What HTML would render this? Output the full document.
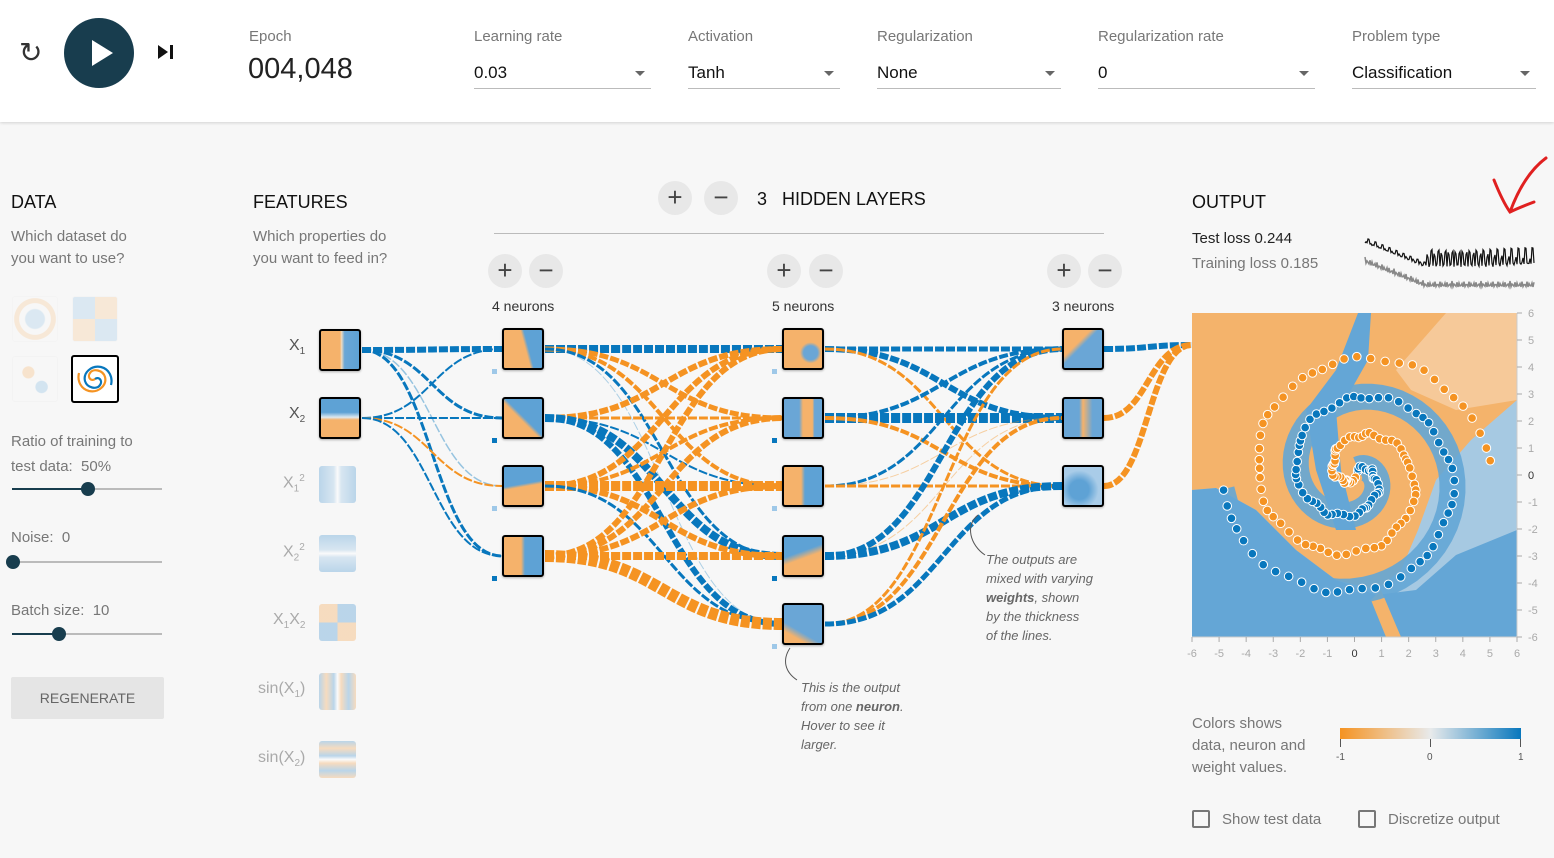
<!DOCTYPE html>
<html><head><meta charset="utf-8">
<style>
*{box-sizing:border-box;margin:0;padding:0}
body{width:1554px;height:858px;background:#f7f7f7;font-family:"Liberation Sans",sans-serif;position:relative;overflow:hidden;color:#222}
.a{position:absolute;white-space:nowrap}
#top{position:absolute;left:0;top:0;width:1554px;height:122px;background:#fff;box-shadow:0 1px 3px rgba(0,0,0,.15)}
.lbl{font-size:15px;color:#777}
.sel{font-size:17px;color:#111;border-bottom:1px solid #bbb;height:26px}
.sel:after{content:"";position:absolute;right:6px;top:8px;border:5px solid transparent;border-top:5px solid #666}
.h{font-size:18px;color:#111}
.g{font-size:15px;color:#777;line-height:22px}
.pm{position:absolute;width:34px;height:34px;border-radius:50%;background:#e8e8e8;color:#444;font-size:26px;text-align:center;line-height:32px}
.node{position:absolute;width:42px;height:42px;border:2px solid #000;border-radius:3px;overflow:hidden;box-shadow:0 1px 2px rgba(0,0,0,.3)}
.f{position:absolute;width:37px;height:37px;border-radius:3px;opacity:.4}
.fl{font-size:16px;color:#aaa}
.sl{position:absolute;height:2px;background:#bbb;width:150px}
.kn{position:absolute;width:14px;height:14px;border-radius:50%;background:#183D4E}
.it{font-size:13px;color:#666;font-style:italic;line-height:19px}
</style></head><body>
<div id="top"></div>
<div class="a" style="left:19px;top:36px;font-size:28px;color:#333">&#8635;</div>
<div class="a" style="left:64px;top:18px;width:70px;height:70px;border-radius:50%;background:#183D4E"></div>
<div class="a" style="left:92px;top:40px;width:0;height:0;border-left:21px solid #fff;border-top:13px solid transparent;border-bottom:13px solid transparent"></div>
<div class="a" style="left:158px;top:45px;border-left:10px solid #111;border-top:7px solid transparent;border-bottom:7px solid transparent"></div>
<div class="a" style="left:170px;top:45px;width:3px;height:14px;background:#111"></div>
<div class="a lbl" style="left:249px;top:28px">Epoch</div>
<div class="a" style="left:248px;top:53px;font-size:29px;color:#222">004,048</div>
<div class="a lbl" style="left:474px;top:28px">Learning rate</div>
<div class="a sel" style="left:474px;top:63px;width:177px">0.03</div>
<div class="a lbl" style="left:688px;top:28px">Activation</div>
<div class="a sel" style="left:688px;top:63px;width:152px">Tanh</div>
<div class="a lbl" style="left:877px;top:28px">Regularization</div>
<div class="a sel" style="left:877px;top:63px;width:184px">None</div>
<div class="a lbl" style="left:1098px;top:28px">Regularization rate</div>
<div class="a sel" style="left:1098px;top:63px;width:217px">0</div>
<div class="a lbl" style="left:1352px;top:28px">Problem type</div>
<div class="a sel" style="left:1352px;top:63px;width:184px">Classification</div>

<div class="a h" style="left:11px;top:192px">DATA</div>
<div class="a g" style="left:11px;top:226px">Which dataset do<br>you want to use?</div>
<div class="a" style="left:12px;top:296px;width:46px;height:46px;border:1px solid #eee;border-radius:3px;opacity:.3;background:radial-gradient(circle,#9ec8e8 0 30%,transparent 34%,transparent 50%,#f8c690 52% 66%,transparent 68%)"></div>
<div class="a" style="left:72px;top:296px;width:46px;height:46px;border:1px solid #eee;border-radius:3px;opacity:.3;background:conic-gradient(#f8c690 0 25%,#9ec8e8 25% 50%,#f8c690 50% 75%,#9ec8e8 75%)"></div>
<div class="a" style="left:12px;top:356px;width:46px;height:46px;border:1px solid #eee;border-radius:3px;opacity:.4;background:radial-gradient(circle at 35% 35%,#f8c690 0 14%,transparent 16%),radial-gradient(circle at 65% 68%,#9ec8e8 0 14%,transparent 16%)"></div>
<div class="a" style="left:71px;top:355px;width:48px;height:48px;border:2px solid #000;border-radius:3px;background:#fff">
<svg width="44" height="44" viewBox="-22 -22 44 44"><path d="M0 0 C4 -3 8 2 5 6 C2 11 -8 9 -10 2 C-12 -6 -4 -14 6 -12 C14 -10 18 -2 16 6" fill="none" stroke="#0877bd" stroke-width="2.2"/><path d="M0 0 C-4 3 -8 -2 -5 -6 C-2 -11 8 -9 10 -2 C12 6 4 14 -6 12 C-14 10 -18 2 -16 -6" fill="none" stroke="#f59322" stroke-width="2.2"/></svg></div>
<div class="a g" style="left:11px;top:429px;line-height:25px">Ratio of training to<br>test data:&nbsp; 50%</div>
<div class="sl" style="left:12px;top:488px"></div><div class="a" style="left:12px;top:488px;width:76px;height:2px;background:#183D4E"></div><div class="kn" style="left:81px;top:482px"></div>
<div class="a g" style="left:11px;top:527px">Noise:&nbsp; 0</div>
<div class="sl" style="left:12px;top:561px"></div><div class="kn" style="left:6px;top:555px"></div>
<div class="a g" style="left:11px;top:600px">Batch size:&nbsp; 10</div>
<div class="sl" style="left:12px;top:633px"></div><div class="a" style="left:12px;top:633px;width:46px;height:2px;background:#183D4E"></div><div class="kn" style="left:52px;top:627px"></div>
<div class="a" style="left:11px;top:677px;width:153px;height:42px;background:#e5e5e5;border-radius:2px;font-size:14px;color:#666;text-align:center;line-height:42px">REGENERATE</div>

<div class="a h" style="left:253px;top:192px">FEATURES</div>
<div class="a g" style="left:253px;top:226px">Which properties do<br>you want to feed in?</div>

<div class="pm" style="left:658px;top:181px">+</div><div class="pm" style="left:704px;top:181px">−</div>
<div class="a h" style="left:757px;top:189px">3&nbsp;&nbsp; HIDDEN LAYERS</div>
<div class="a" style="left:494px;top:233px;width:610px;height:1px;background:#bbb"></div>
<div class="pm" style="left:488px;top:254px">+</div><div class="pm" style="left:529px;top:254px">−</div>
<div class="pm" style="left:767px;top:254px">+</div><div class="pm" style="left:809px;top:254px">−</div>
<div class="pm" style="left:1047px;top:254px">+</div><div class="pm" style="left:1088px;top:254px">−</div>
<div class="a" style="left:492px;top:298px;font-size:14px;color:#333">4 neurons</div>
<div class="a" style="left:772px;top:298px;font-size:14px;color:#333">5 neurons</div>
<div class="a" style="left:1052px;top:298px;font-size:14px;color:#333">3 neurons</div>

<svg class="a" style="left:0;top:0" width="1554" height="858" id="links"></svg>

<div class="a fl" style="left:289px;top:337px;color:#555">X<sub style="font-size:10px">1</sub></div>
<div class="a fl" style="left:289px;top:405px;color:#555">X<sub style="font-size:10px">2</sub></div>
<div class="a fl" style="left:283px;top:473px">X<sub style="font-size:10px">1</sub><sup style="font-size:10px">2</sup></div>
<div class="a fl" style="left:283px;top:542px">X<sub style="font-size:10px">2</sub><sup style="font-size:10px">2</sup></div>
<div class="a fl" style="left:273px;top:611px">X<sub style="font-size:10px">1</sub>X<sub style="font-size:10px">2</sub></div>
<div class="a fl" style="left:258px;top:680px">sin(X<sub style="font-size:10px">1</sub>)</div>
<div class="a fl" style="left:258px;top:749px">sin(X<sub style="font-size:10px">2</sub>)</div>

<div class="node" style="left:319px;top:329px;background:linear-gradient(90deg,#f5b26b 50%,#f0dcc0 54%,#6aa6d6 62%,#5ea2d5)"></div>
<div class="node" style="left:319px;top:397px;background:linear-gradient(180deg,#5ea2d5 35%,#dce8f0 48%,#f5b26b 55%)"></div>
<div class="f" style="left:319px;top:466px;background:linear-gradient(90deg,#5ea2d5,#a9cce8 40%,#fff 50%,#a9cce8 60%,#5ea2d5)"></div>
<div class="f" style="left:319px;top:535px;background:linear-gradient(180deg,#5ea2d5,#a9cce8 40%,#fff 50%,#a9cce8 60%,#5ea2d5)"></div>
<div class="f" style="left:319px;top:604px;background:conic-gradient(from 90deg at 50% 50%,#f5b26b 0 25%,#5ea2d5 25% 50%,#f5b26b 50% 75%,#5ea2d5 75%)"></div>
<div class="f" style="left:319px;top:673px;background:linear-gradient(90deg,#5ea2d5,#f5b26b 20%,#5ea2d5 40%,#fff 50%,#f5b26b 60%,#5ea2d5 80%,#f5b26b)"></div>
<div class="f" style="left:319px;top:741px;background:linear-gradient(180deg,#5ea2d5,#f5b26b 20%,#5ea2d5 40%,#fff 50%,#f5b26b 60%,#5ea2d5 80%,#f5b26b)"></div>

<div class="node" style="left:502px;top:328px;background:linear-gradient(75deg,#f5b26b 55%,#5ea2d5 62%)"></div>
<div class="node" style="left:502px;top:397px;background:linear-gradient(45deg,#f5b26b 45%,#5ea2d5 52%)"></div>
<div class="node" style="left:502px;top:465px;background:linear-gradient(170deg,#5ea2d5 45%,#f5b26b 52%)"></div>
<div class="node" style="left:502px;top:535px;background:linear-gradient(90deg,#f5b26b 45%,#5ea2d5 55%)"></div>
<div class="node" style="left:782px;top:328px;background:radial-gradient(circle at 70% 60%,#6aa6d6 20%,#f5b26b 30%)"></div>
<div class="node" style="left:782px;top:397px;background:linear-gradient(90deg,#6aa6d6 40%,#f5b26b 50%,#f5b26b 75%,#6aa6d6 80%)"></div>
<div class="node" style="left:782px;top:465px;background:linear-gradient(90deg,#f5b26b 45%,#5ea2d5 55%)"></div>
<div class="node" style="left:782px;top:535px;background:linear-gradient(160deg,#5ea2d5 40%,#f5b26b 55%)"></div>
<div class="node" style="left:782px;top:603px;background:linear-gradient(30deg,#f5b26b 20%,#6aa6d6 35%)"></div>
<div class="node" style="left:1062px;top:328px;background:linear-gradient(135deg,#f5b26b 35%,#6aa6d6 45%)"></div>
<div class="node" style="left:1062px;top:397px;background:linear-gradient(90deg,#6aa6d6 40%,#f5b26b 50%,#6aa6d6 75%)"></div>
<div class="node" style="left:1062px;top:465px;background:radial-gradient(circle at 40% 60%,#5ea2d5 30%,#a9cce8 60%)"></div>

<div class="a it" style="left:986px;top:550px">The outputs are<br>mixed with varying<br><b>weights</b>, shown<br>by the thickness<br>of the lines.</div>
<div class="a it" style="left:801px;top:678px">This is the output<br>from one <b>neuron</b>.<br>Hover to see it<br>larger.</div>
<svg class="a" style="left:0;top:0" width="1554" height="858"><path d="M985 555 C970 545 965 525 978 515" fill="none" stroke="#555"/><path d="M797 680 C785 672 782 660 790 648" fill="none" stroke="#555"/></svg>

<div class="a h" style="left:1192px;top:192px">OUTPUT</div>
<div class="a" style="left:1192px;top:230px;font-size:15px;color:#222">Test loss 0.244</div>
<div class="a" style="left:1192px;top:255px;font-size:15px;color:#777">Training loss 0.185</div>
<svg class="a" style="left:1360px;top:220px" width="180" height="80" id="loss"></svg>
<svg class="a" style="left:1490px;top:150px" width="60" height="70"><path d="M56 8 C40 20 28 40 20 62 M4 30 C10 45 15 55 20 62 C28 58 36 55 44 52" fill="none" stroke="#e02020" stroke-width="3" stroke-linecap="round"/></svg>

<svg class="a" style="left:1186px;top:300px" width="368" height="370" id="plot"></svg>

<div class="a g" style="left:1192px;top:713px;line-height:22px">Colors shows<br>data, neuron and<br>weight values.</div>
<div class="a" style="left:1340px;top:728px;width:181px;height:11px;background:linear-gradient(90deg,#f59322,#e8eaeb 50%,#0877bd)"></div>
<div class="a" style="left:1340px;top:739px;width:1px;height:8px;background:#555"></div>
<div class="a" style="left:1430px;top:739px;width:1px;height:8px;background:#555"></div>
<div class="a" style="left:1520px;top:739px;width:1px;height:8px;background:#555"></div>
<div class="a" style="left:1336px;top:752px;font-size:10px;color:#555">-1</div>
<div class="a" style="left:1427px;top:752px;font-size:10px;color:#555">0</div>
<div class="a" style="left:1518px;top:752px;font-size:10px;color:#555">1</div>
<div class="a" style="left:1192px;top:810px;width:18px;height:18px;border:2px solid #777;border-radius:2px"></div>
<div class="a g" style="left:1222px;top:809px;font-size:15px">Show test data</div>
<div class="a" style="left:1358px;top:810px;width:18px;height:18px;border:2px solid #777;border-radius:2px"></div>
<div class="a g" style="left:1388px;top:809px;font-size:15px">Discretize output</div>

<script>
const B="#0877bd",O="#f59322",NS="http://www.w3.org/2000/svg";
const L0=[350,418],L1=[349,418,486,556],L2=[349,418,486,556,624],L3=[349,418,486];
const links=document.getElementById("links");
function link(x1,y1,x2,y2,c,w,op){const p=document.createElementNS(NS,"path");const mx=(x1+x2)/2;
p.setAttribute("d",`M${x1} ${y1} C${mx} ${y1} ${mx} ${y2} ${x2} ${y2}`);p.setAttribute("fill","none");p.setAttribute("stroke",c);
p.setAttribute("stroke-width",w);p.setAttribute("stroke-dasharray","9 2");p.setAttribute("opacity",op||1);links.appendChild(p);}
const W01=[[[B,6],[B,3],[B,1.5,.4],[B,3]],[[B,2],[B,2],[O,2],[B,2]]];
const W12=[[[B,8],[O,5],[O,4],[B,3],[B,1,.3]],[[O,6],[O,3],[B,2],[B,8],[B,6]],[[O,6],[O,4],[O,10],[O,6],[B,3]],[[O,6],[O,6],[O,6],[O,8],[O,12]]];
const W23=[[[B,5],[B,6],[O,3]],[[B,4],[B,10],[O,4]],[[B,3],[O,1,.4],[O,3]],[[B,6],[O,1,.4],[B,8]],[[O,3],[O,4],[B,5]]];
W01.forEach((r,i)=>r.forEach((w,j)=>link(362,L0[i],502,L1[j],w[0],w[1],w[2])));
W12.forEach((r,i)=>r.forEach((w,j)=>link(545,L1[i],782,L2[j],w[0],w[1],w[2])));
W23.forEach((r,i)=>r.forEach((w,j)=>link(825,L2[i],1062,L3[j],w[0],w[1],w[2])));
[[B,6],[O,6],[O,6]].forEach((w,i)=>link(1104,L3[i],1192,345,w[0],w[1]));
[L1,L2].forEach((L,k)=>L.forEach((y,i)=>{const r=document.createElementNS(NS,"rect");r.setAttribute("x",k?772:492);r.setAttribute("y",y+20);r.setAttribute("width",5);r.setAttribute("height",5);r.setAttribute("fill",i%2?B:"#9ec8e8");links.appendChild(r);}));
const pl=document.getElementById("plot");let s=`<rect x="6" y="13" width="325" height="324" fill="#f4b36b"/>
<polygon points="6,190 30,188 70,210 110,250 150,280 190,290 215,270 232,230 250,180 285,140 331,100 331,337 6,337" fill="#a6c9e2"/>
<polygon points="6,190 30,188 70,210 110,250 150,280 190,295 230,290 270,255 331,230 331,337 6,337" fill="#64a6d6"/>
<polygon points="185,300 200,337 215,337 195,290" fill="#f4b36b"/>
<polygon points="172,13 185,13 182,60 165,90 150,110 155,170 170,230 150,230 130,170 120,110 150,70" fill="#64a6d6"/>
<polygon points="260,13 331,13 331,100 270,110 225,90 210,70" fill="#f6c999"/>`;
const cx=169,cy=175,sc=27.1;
let bp=[];for(let i=0;i<100;i++){const r=i/100*5,t=1.75*i/100*2*Math.PI;bp.push([cx+r*Math.sin(t)*sc,cy-r*Math.cos(t)*sc]);}
s+=`<polyline points="${bp.slice(5).map(p=>p.join(",")).join(" ")}" fill="none" stroke="#64a6d6" stroke-width="26" opacity=".9"/>`;
for(let d=0;d<2;d++)for(let i=3;i<100;i+=1){const r=i/100*5,t=1.75*i/100*2*Math.PI+d*Math.PI;const x=cx+r*Math.sin(t)*sc+Math.sin(i*7)*2,y=cy-r*Math.cos(t)*sc+Math.cos(i*5)*2;
s+=`<circle cx="${x}" cy="${y}" r="4.3" fill="${d?O:B}" stroke="#fff" stroke-width="1"/>`;}
s+=`<line x1="6" y1="337" x2="331" y2="337" stroke="#ccc"/><line x1="331" y1="13" x2="331" y2="337" stroke="#ccc"/>`;
for(let k=-6;k<=6;k++){const x=6+(k+6)*325/12,y=337-(k+6)*324/12;
s+=`<line x1="${x}" y1="337" x2="${x}" y2="342" stroke="#aaa"/><text x="${x}" y="357" font-size="11" fill="${k?"#aaa":"#333"}" text-anchor="middle" font-family="Liberation Sans">${k}</text>`;
s+=`<line x1="331" y1="${y}" x2="336" y2="${y}" stroke="#aaa"/><text x="342" y="${y+4}" font-size="11" fill="${k?"#aaa":"#333"}" font-family="Liberation Sans">${k}</text>`;}
pl.innerHTML=s;
let a="",b="";for(let i=0;i<170;i++){const x=5+i;const base=25+Math.min(i,60)*0.4;
b+=`${x},${base+12+Math.abs(Math.sin(i*1.3))*6} `;a+=`${x},${base-2-Math.abs(Math.sin(i*2.7)*Math.cos(i*0.9))*(i>60?22:6)} `;}
document.getElementById("loss").innerHTML=`<polyline points="${b}" fill="none" stroke="#888" stroke-width="1.5"/><polyline points="${a}" fill="none" stroke="#111" stroke-width="1.2"/>`;
</script>
</body></html>
